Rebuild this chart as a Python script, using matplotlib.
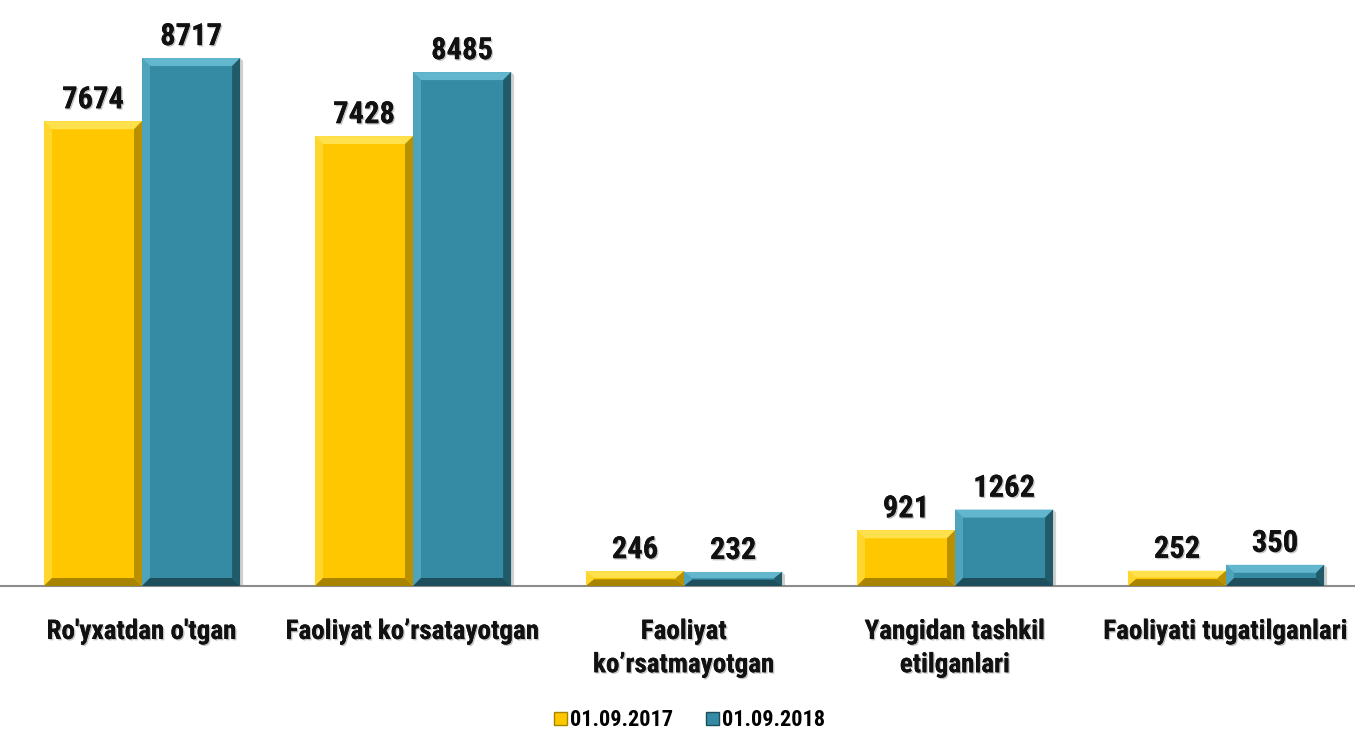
import numpy as np
import matplotlib
matplotlib.use("Agg")
import matplotlib.pyplot as plt
from matplotlib.patches import Polygon, Patch
import matplotlib.patheffects as pe

plt.rcParams['font.family'] = ['Roboto Condensed', 'DejaVu Sans']

categories = ["Ro'yxatdan o'tgan", "Faoliyat ko\u2019rsatayotgan", "Faoliyat\nko\u2019rsatmayotgan",
              "Yangidan tashkil\netilganlari", "Faoliyati tugatilganlari"]
series_names = ["01.09.2017", "01.09.2018"]
vals_2017 = [7674, 7428, 246, 921, 252]
vals_2018 = [8717, 8485, 232, 1262, 350]

# face, light edge, dark edge
yellow = ("#FFC700", "#FFE14D", "#A88400")
teal = ("#358BA3", "#62B6CE", "#1D4E5B")

fig = plt.figure(figsize=(13.55, 7.35), dpi=100)
ax = fig.add_axes([0, 0.2027, 1, 0.7973])
ax.set_xlim(-0.524, 4.476)
ax.set_ylim(0, 9675)

x = np.arange(len(categories))
w = 0.362

px_x = 1355 / 5.0          # pixels per x unit
px_y = 586 / 9675.0        # pixels per y unit


def bevel(ax, bars, cols):
    face, light, dark = cols
    for b in bars:
        x0, y0, bw, bh = b.get_x(), b.get_y(), b.get_width(), b.get_height()
        bpx = 8.0
        dx = bpx / px_x
        dy = min(bpx / px_y, bh * 0.45)
        x1, y1 = x0 + bw, y0 + bh
        # shadow on the right
        ax.add_patch(Polygon([(x1, y0), (x1 + 3 / px_x, y0), (x1 + 3 / px_x, y1 - 3 / px_y), (x1, y1)],
                             closed=True, fc="#d0d0d0", ec="none", zorder=1))
        ax.add_patch(Polygon([(x0, y1), (x1, y1), (x1 - dx, y1 - dy), (x0 + dx, y1 - dy)],
                             closed=True, fc=light, ec="none", zorder=3))
        ax.add_patch(Polygon([(x0, y0), (x0, y1), (x0 + dx, y1 - dy), (x0 + dx, y0 + dy)],
                             closed=True, fc=light, ec="none", alpha=0.6, zorder=3))
        ax.add_patch(Polygon([(x1, y0), (x1, y1), (x1 - dx, y1 - dy), (x1 - dx, y0 + dy)],
                             closed=True, fc=dark, ec="none", alpha=0.8, zorder=3))
        ax.add_patch(Polygon([(x0, y0), (x1, y0), (x1 - dx, y0 + dy), (x0 + dx, y0 + dy)],
                             closed=True, fc=dark, ec="none", zorder=3))


b1 = ax.bar(x - w / 2, vals_2017, w, color=yellow[0], zorder=2)
b2 = ax.bar(x + w / 2, vals_2018, w, color=teal[0], zorder=2)
bevel(ax, b1, yellow)
bevel(ax, b2, teal)

shadow = [pe.withSimplePatchShadow(offset=(1.0, -1.0), shadow_rgbFace="#888888", alpha=0.5), pe.Normal()]
for bars, vals in ((b1, vals_2017), (b2, vals_2018)):
    for b, v in zip(bars, vals):
        ax.annotate(str(v), (b.get_x() + b.get_width() / 2, v), xytext=(0, 5), textcoords="offset points",
                    ha="center", va="bottom", fontsize=22, fontweight="bold", color="#111111",
                    path_effects=shadow, zorder=5)

for s in ["top", "right", "left"]:
    ax.spines[s].set_visible(False)
ax.spines["bottom"].set_color("#8c8c8c")
ax.spines["bottom"].set_linewidth(1.5)
ax.set_yticks([])
ax.set_xticks(x)
ax.set_xticklabels(categories, fontsize=19.5, fontweight="bold", color="#111111", linespacing=1.3)
ax.tick_params(axis="x", length=0, pad=23)
for t in ax.get_xticklabels():
    t.set_path_effects(shadow)

handles = [Patch(facecolor=yellow[0], edgecolor=yellow[2], label=series_names[0]),
           Patch(facecolor=teal[0], edgecolor=teal[2], label=series_names[1])]
leg = fig.legend(handles=handles, loc="lower center", bbox_to_anchor=(0.509, -0.022), ncol=2, frameon=False,
                 prop={"size": 16, "weight": "bold"}, handlelength=0.55, handleheight=0.55,
                 handletextpad=0.15, columnspacing=1.5)

fig.savefig("out.png", dpi=100)
